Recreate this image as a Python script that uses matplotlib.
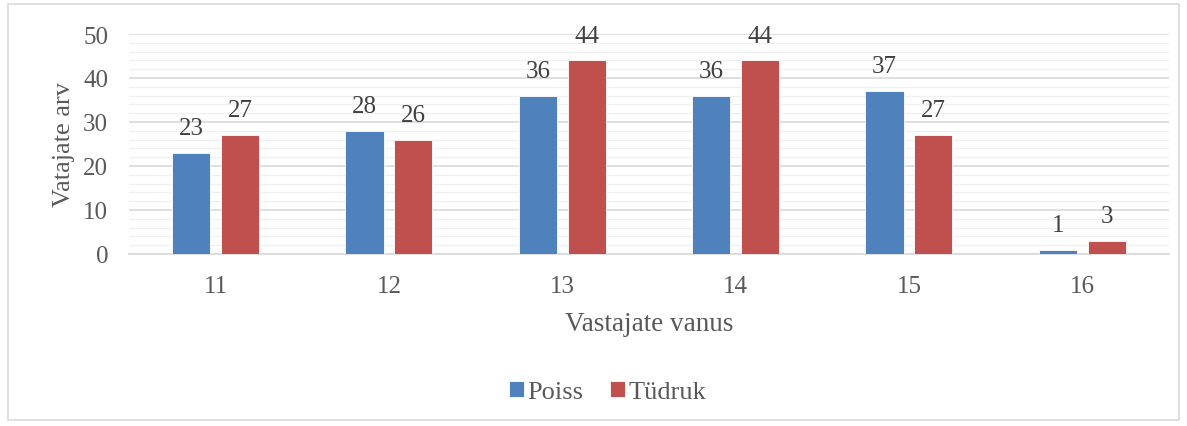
import numpy as np
import matplotlib.pyplot as plt
from matplotlib.patches import Rectangle

# data
vanus = ['11', '12', '13', '14', '15', '16']
poiss = [23, 28, 36, 36, 37, 1]
tudruk = [27, 26, 44, 44, 27, 3]

blue = '#4F81BD'
red = '#C0504D'
serif = ['Liberation Serif', 'DejaVu Serif']

fig = plt.figure(figsize=(11.87, 4.27), dpi=100)
ax = fig.add_axes([0.1087, 0.403, 0.876, 0.515])

x = np.arange(len(vanus))
w = 0.22
off = 0.141
b1 = ax.bar(x - off, poiss, w, color=blue, edgecolor='white', linewidth=0.6, label='Poiss', zorder=3)
b2 = ax.bar(x + off, tudruk, w, color=red, edgecolor='white', linewidth=0.6, label='Tüdruk', zorder=3)

for bars in (b1, b2):
    ax.bar_label(bars, padding=10, fontsize=18, color='#404040', family=serif)

ax.set_xlim(-0.5, len(vanus) - 0.5)
ax.set_ylim(0, 50)
ax.set_yticks(range(0, 51, 10))
ax.set_yticks(range(0, 51, 2), minor=True)
ax.set_xticks(x)
ax.set_xticklabels(vanus)
ax.grid(axis='y', which='major', color='#D9D9D9', linewidth=1.2, zorder=0)
ax.grid(axis='y', which='minor', color='#F0F0F0', linewidth=1.0, zorder=0)
ax.tick_params(which='both', length=0)
ax.tick_params(axis='y', pad=15)
ax.tick_params(axis='x', pad=15)
for lbl in ax.get_xticklabels() + ax.get_yticklabels():
    lbl.set_family(serif)
    lbl.set_fontsize(18)
    lbl.set_color('#595959')
for s in ['top', 'right', 'left']:
    ax.spines[s].set_visible(False)
ax.spines['bottom'].set_color('#D9D9D9')
ax.spines['bottom'].set_linewidth(1.2)

ax.set_xlabel('Vastajate vanus', fontsize=19.5, color='#595959', family=serif, labelpad=10)
ax.set_ylabel('Vatajate arv', fontsize=19, color='#595959', family=serif, labelpad=6)

leg = fig.legend(loc='center', bbox_to_anchor=(0.512, 0.08), ncol=2, frameon=False,
                 prop={'family': serif, 'size': 19}, handlelength=0.55, handleheight=0.55,
                 handletextpad=0.15, columnspacing=1.0)
for t in leg.get_texts():
    t.set_color('#595959')

fig.patches.append(Rectangle((0.007, 0.014), 0.986, 0.975, transform=fig.transFigure,
                             fill=False, edgecolor='#D9D9D9', linewidth=1.2))

fig.savefig('out.png', dpi=100)
